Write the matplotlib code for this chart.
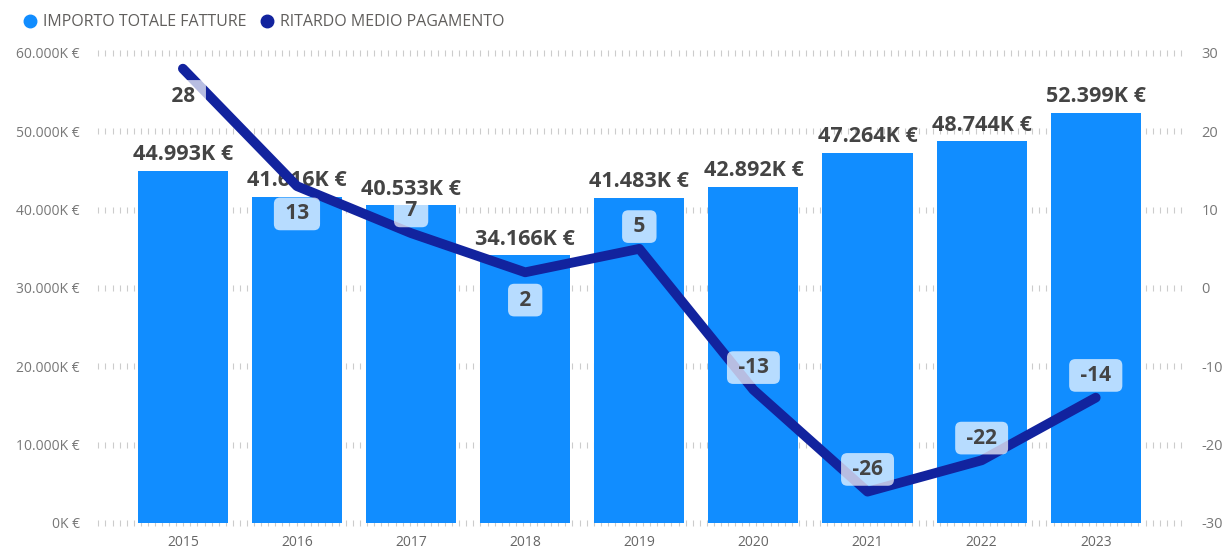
import numpy as np
import matplotlib
matplotlib.use("Agg")
import matplotlib.pyplot as plt
from matplotlib.lines import Line2D

years = ["2015", "2016", "2017", "2018", "2019", "2020", "2021", "2022", "2023"]
importo = [44993, 41616, 40533, 34166, 41483, 42892, 47264, 48744, 52399]  # K €
ritardo = [28, 13, 7, 2, 5, -13, -26, -22, -14]
label_below = [True, True, False, True, False, False, False, False, False]

left_ticks = [0, 10000, 20000, 30000, 40000, 50000, 60000]
right_ticks = [-30, -20, -10, 0, 10, 20, 30]

BAR = "#118DFF"
LINE = "#12239E"
TXT = "#444444"
TICK = "#777777"

plt.rcParams["font.family"] = ["Open Sans", "DejaVu Sans"]
plt.rcParams["axes.unicode_minus"] = False


def fmt_k(v):
    return "{:,}K €".format(int(v)).replace(",", ".")


fig = plt.figure(figsize=(12.29, 5.49), dpi=100)
ax = fig.add_axes([0.0773, 0.0474, 0.8867, 0.8561])
x = np.arange(len(years))
xlim = (-0.77, len(years) - 1 + 0.78)

bars = ax.bar(x, importo, width=0.79, color=BAR, zorder=2)
ax.set_xlim(*xlim)
ax.set_ylim(0, 60000)

# dotted grid in the Power BI style (small vertical marks)
gx = np.arange(xlim[0] + 0.03, xlim[1], 0.062)
for t in left_ticks:
    ax.plot(gx, np.full_like(gx, t), ls="none", marker="|", ms=5, mew=0.8,
            color="#cccccc", zorder=1, clip_on=False)

for b, v in zip(bars, importo):
    ax.annotate(fmt_k(v), (b.get_x() + b.get_width() / 2, v), xytext=(0, 4),
                textcoords="offset points", ha="center", va="bottom",
                fontsize=15.5, fontweight="bold", color=TXT, zorder=3)

ax.set_yticks(left_ticks)
ax.set_yticklabels([fmt_k(t) for t in left_ticks])
ax.set_xticks(x)
ax.set_xticklabels(years)
ax.tick_params(axis="y", length=0, pad=11, labelsize=10, labelcolor=TICK)
ax.tick_params(axis="x", length=0, pad=9, labelsize=10, labelcolor="#666666")
for s in ax.spines.values():
    s.set_visible(False)

ax2 = ax.twinx()
ax2.set_ylim(-30, 30)
ax2.set_yticks(right_ticks)
ax2.tick_params(axis="y", length=0, pad=12, labelsize=10.5, labelcolor=TICK)
for s in ax2.spines.values():
    s.set_visible(False)
ax2.plot(x, ritardo, color=LINE, lw=7, solid_capstyle="round",
         solid_joinstyle="round", zorder=4)

for xi, v, below in zip(x, ritardo, label_below):
    dy = -20 if below else 16
    ax2.annotate(" {} ".format(v), (xi, v), xytext=(0, dy),
                 textcoords="offset points", ha="center", va="center",
                 fontsize=15, fontweight="bold", color=TXT, zorder=5,
                 bbox=dict(boxstyle="round,pad=0.28,rounding_size=0.3",
                           fc="white", alpha=0.7, ec="none"))

handles = [
    Line2D([], [], ls="none", marker="o", ms=9, color=BAR),
    Line2D([], [], ls="none", marker="o", ms=9, color=LINE),
]
fig.legend(handles, ["IMPORTO TOTALE FATTURE", "RITARDO MEDIO PAGAMENTO"],
           loc="upper left", bbox_to_anchor=(0.0, 1.0), ncol=2, frameon=False,
           handletextpad=-0.2, columnspacing=0.3, fontsize=11.5,
           labelcolor="#605E5C")

fig.savefig("out.png", dpi=100)
